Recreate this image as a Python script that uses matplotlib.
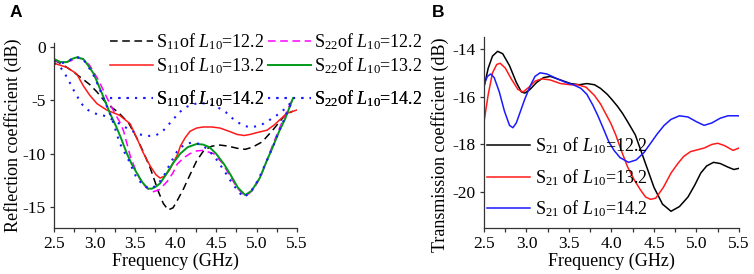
import matplotlib
matplotlib.use("Agg")
import matplotlib.pyplot as plt
from matplotlib.ticker import MultipleLocator

plt.rcParams['font.family'] = ['Liberation Serif', 'DejaVu Serif']
plt.rcParams['mathtext.fontset'] = 'custom'
plt.rcParams['mathtext.rm'] = 'Liberation Serif'
plt.rcParams['mathtext.it'] = 'Liberation Serif:italic'

# ---------------- Panel A data (reflection coefficient, dB) ----------------
f_s11_122 = [2.5, 2.6, 2.7, 2.84, 2.94, 3.03, 3.15, 3.29, 3.42, 3.52, 3.6, 3.69, 3.79, 3.85, 3.91,
             3.97, 4.03, 4.1, 4.16, 4.26, 4.35, 4.45, 4.55, 4.65, 4.76, 4.86, 4.95, 5.07, 5.2, 5.35, 5.45]
s11_122 = [-1.2, -1.6, -2.1, -2.9, -3.5, -4.2, -5.3, -6.1, -7.1, -8.5, -9.8, -11.4, -13.6, -14.7, -15.3,
           -15.1, -14.3, -13.3, -12.3, -10.7, -9.7, -9.3, -9.2, -9.3, -9.5, -9.6, -9.4, -8.9, -7.8, -6.4, -6.0]

f_s22_122 = [2.5, 2.6, 2.7, 2.78, 2.86, 2.94, 3.05, 3.15, 3.25, 3.31, 3.36, 3.44, 3.5, 3.56, 3.64, 3.72,
             3.8, 3.9, 3.97, 4.02, 4.1, 4.18, 4.26, 4.34, 4.47, 4.58, 4.68, 4.76, 4.84, 4.9, 4.96, 5.05,
             5.13, 5.21, 5.29, 5.37, 5.45]
s22_122 = [-1.2, -1.5, -1.3, -1.0, -1.1, -1.7, -3.1, -4.7, -6.2, -7.0, -7.9, -10.2, -11.4, -12.4, -13.2, -13.6,
           -13.4, -12.6, -11.8, -11.0, -10.4, -10.0, -9.75, -9.7, -10.0, -10.9, -12.2, -13.2, -13.9, -13.8, -13.4, -12.2,
           -10.6, -9.0, -7.5, -6.1, -4.8]

f_s11_132 = [2.5, 2.58, 2.66, 2.72, 2.78, 2.86, 2.94, 3.03, 3.15, 3.31, 3.44, 3.52, 3.6, 3.69, 3.76, 3.81,
             3.87, 3.93, 4.03, 4.06, 4.12, 4.18, 4.26, 4.34, 4.45, 4.55, 4.66, 4.76, 4.85, 4.92, 5.02, 5.13,
             5.22, 5.29, 5.38, 5.5]
s11_132 = [-1.5, -1.7, -1.9, -2.2, -2.5, -3.6, -4.5, -5.3, -5.9, -6.4, -7.2, -8.5, -9.9, -11.2, -12.0, -12.3,
           -12.1, -11.5, -10.0, -9.3, -8.5, -7.9, -7.6, -7.5, -7.5, -7.6, -7.9, -8.2, -8.3, -8.2, -8.0, -7.8,
           -7.3, -6.8, -6.2, -5.9]

f_s22_132 = [2.5, 2.58, 2.66, 2.72, 2.78, 2.86, 2.93, 2.99, 3.09, 3.19, 3.27, 3.33, 3.4, 3.46, 3.52, 3.59,
             3.66, 3.71, 3.76, 3.81, 3.88, 3.97, 4.06, 4.15, 4.26, 4.34, 4.42, 4.5, 4.6, 4.68, 4.77, 4.86,
             4.94, 5.04, 5.12, 5.2, 5.28, 5.35, 5.45]
s22_132 = [-1.1, -1.4, -1.4, -1.1, -0.95, -1.1, -1.8, -2.5, -4.3, -6.2, -7.5, -8.6, -10.0, -11.0, -11.8, -12.7,
           -13.3, -13.3, -13.1, -12.8, -12.0, -10.9, -10.0, -9.4, -9.1, -9.15, -9.4, -10.0, -11.0, -12.0, -13.2, -13.9,
           -13.5, -12.3, -10.8, -9.4, -7.9, -6.8, -4.8]

f_s11_142 = [2.5, 2.57, 2.62, 2.68, 2.74, 2.8, 2.85, 2.92, 2.99, 3.15, 3.31, 3.44, 3.56, 3.65, 3.75, 3.83,
             3.9, 3.97, 4.05, 4.14, 4.22, 4.3, 4.4, 4.51, 4.62, 4.72, 4.82, 4.9, 4.96, 5.06, 5.17, 5.25,
             5.35, 5.45]
s11_142 = [-1.5, -1.8, -2.3, -3.1, -4.0, -4.8, -5.4, -5.9, -6.2, -6.5, -7.2, -7.8, -8.2, -8.35, -8.3, -8.0,
           -7.4, -6.8, -6.1, -5.6, -5.35, -5.25, -5.3, -5.6, -6.1, -6.8, -7.3, -7.5, -7.5, -7.3, -6.8, -6.4,
           -5.8, -5.0]

f_s22_142 = [2.5, 2.58, 2.66, 2.72, 2.78, 2.86, 2.93, 3.0, 3.1, 3.22, 3.31, 3.42, 3.52, 3.62, 3.7, 3.78,
             3.85, 3.93, 4.02, 4.1, 4.2, 4.3, 4.4, 4.5, 4.6, 4.7, 4.78, 4.84, 4.92, 5.02, 5.12, 5.2, 5.3, 5.45]
s22_142 = [-1.3, -1.5, -1.4, -1.1, -0.9, -1.1, -1.9, -2.8, -4.6, -6.8, -9.0, -10.6, -12.3, -13.1, -13.3, -12.9,
           -12.2, -11.0, -9.8, -9.2, -8.95, -9.1, -9.6, -10.5, -11.6, -12.8, -13.6, -14.1, -13.7, -12.5, -10.8, -9.4, -7.5, -4.9]

# ---------------- Panel B data (transmission coefficient, dB) ----------------
f_s21_122 = [2.5, 2.55, 2.6, 2.66, 2.72, 2.8, 2.88, 2.94, 2.98, 3.04, 3.12, 3.2, 3.28, 3.4, 3.52, 3.62,
             3.71, 3.8, 3.87, 3.95, 4.0, 4.07, 4.13, 4.19, 4.28, 4.36, 4.43, 4.5, 4.6, 4.7, 4.8, 4.9,
             4.98, 5.05, 5.12, 5.2, 5.28, 5.37, 5.44, 5.5]
s21_122 = [-15.6, -14.8, -14.3, -14.1, -14.2, -14.7, -15.4, -15.8, -15.85, -15.7, -15.4, -15.2, -15.15, -15.3, -15.45, -15.5,
           -15.45, -15.5, -15.65, -15.9, -16.1, -16.4, -16.7, -17.05, -17.6, -18.4, -19.1, -19.8, -20.5, -20.8, -20.6, -20.2,
           -19.7, -19.2, -18.9, -18.75, -18.8, -18.95, -19.05, -19.0]

f_s21_132 = [2.5, 2.55, 2.6, 2.65, 2.69, 2.75, 2.82, 2.9, 2.96, 3.03, 3.1, 3.18, 3.28, 3.4, 3.52, 3.6,
             3.7, 3.8, 3.87, 3.93, 3.99, 4.05, 4.12, 4.19, 4.27, 4.34, 4.4, 4.46, 4.52, 4.61, 4.7, 4.78,
             4.85, 4.93, 5.09, 5.18, 5.25, 5.33, 5.43, 5.5]
s21_132 = [-17.05, -15.9, -15.0, -14.65, -14.6, -14.8, -15.25, -15.7, -15.8, -15.6, -15.35, -15.25, -15.3, -15.45, -15.5, -15.5,
           -15.6, -15.95, -16.3, -16.7, -17.1, -17.6, -18.3, -18.95, -19.5, -19.9, -20.2, -20.3, -20.25, -19.8, -19.2, -18.8,
           -18.5, -18.3, -18.15, -18.0, -17.95, -18.05, -18.25, -18.15]

f_s21_142 = [2.5, 2.54, 2.58, 2.62, 2.68, 2.74, 2.8, 2.84, 2.88, 2.93, 2.98, 3.05, 3.1, 3.16, 3.24, 3.36,
             3.46, 3.55, 3.64, 3.71, 3.78, 3.84, 3.9, 3.97, 4.03, 4.1, 4.2, 4.29, 4.38, 4.46, 4.54, 4.62,
             4.7, 4.8, 4.9, 5.0, 5.09, 5.18, 5.28, 5.37, 5.5]
s21_142 = [-15.5, -15.15, -15.05, -15.2, -15.8, -16.6, -17.2, -17.3, -17.1, -16.6, -16.1, -15.5, -15.15, -15.0, -15.05, -15.25,
           -15.4, -15.5, -15.65, -15.9, -16.35, -16.8, -17.3, -17.9, -18.25, -18.55, -18.75, -18.65, -18.35, -17.95, -17.55, -17.2,
           -16.95, -16.8, -16.85, -17.05, -17.2, -17.1, -16.9, -16.8, -16.8]

xticks = [2.5, 3.0, 3.5, 4.0, 4.5, 5.0, 5.5]
xticklabels = ['2.5', '3.0', '3.5', '4.0', '4.5', '5.0', '5.5']
yticks_a = [0, -5, -10, -15]
yticks_b = [-14, -16, -18, -20]

labels_a = [r'S$_{11}$of $L_{10}$=12.2', r'S$_{22}$of $L_{10}$=12.2',
            r'S$_{11}$of $L_{10}$=13.2', r'S$_{22}$of $L_{10}$=13.2',
            r'S$_{11}$of $L_{10}$=14.2', r'S$_{22}$of $L_{10}$=14.2']
labels_b = [r'S$_{21}$ of $L_{10}$=12.2', r'S$_{21}$ of $L_{10}$=13.2', r'S$_{21}$ of $L_{10}$=14.2']

W, H = 754, 274
fig = plt.figure(figsize=(W / 100, H / 100), dpi=100)

def box(l, r, t, b):
    return [l / W, 1 - b / H, (r - l) / W, (b - t) / H]

axA = fig.add_axes(box(54, 297, 43, 228))
axB = fig.add_axes(box(484, 739, 37, 228))

lw = 1.1
dash = (0, (5, 3))
dot = (0, (1, 3))
blue = '#1a1aff'
hA = []
hA.append(axA.plot(f_s11_122, s11_122, color='black', lw=lw, ls=dash)[0])
hA.append(axA.plot(f_s22_122, s22_122, color='#ff00ff', lw=lw, ls=dash)[0])
hA.append(axA.plot(f_s11_132, s11_132, color='#ff1a1a', lw=lw)[0])
hA.append(axA.plot(f_s22_132, s22_132, color='#009a1a', lw=lw + 0.3)[0])
hA.append(axA.plot(f_s11_142, s11_142, color=blue, lw=1.5, ls=dot)[0])
hA.append(axA.plot(f_s22_142, s22_142, color=blue, lw=1.5, ls=dot)[0])

hB = []
hB.append(axB.plot(f_s21_122, s21_122, color='black', lw=lw)[0])
hB.append(axB.plot(f_s21_132, s21_132, color='#ff1a1a', lw=lw)[0])
hB.append(axB.plot(f_s21_142, s21_142, color=blue, lw=lw)[0])

for ax in (axA, axB):
    ax.set_xlim(2.5, 5.5)
    ax.set_xticks(xticks)
    ax.set_xticklabels(xticklabels)
    ax.xaxis.set_minor_locator(MultipleLocator(0.25))
    ax.spines['top'].set_visible(False)
    ax.spines['right'].set_visible(False)
    for s in ('left', 'bottom'):
        ax.spines[s].set_linewidth(0.9)
        ax.spines[s].set_color('#333333')
    ax.tick_params(which='both', direction='out', length=3, width=0.9, labelsize=12.5, pad=3, color='#333333')
    ax.tick_params(axis='x', which='minor', length=3)
    ax.set_xlabel('Frequency (GHz)', fontsize=13, labelpad=0)

axA.set_ylim(-17, 0.4)
axA.set_yticks(yticks_a)
axA.set_yticklabels([str(v) for v in yticks_a])
axB.set_ylim(-21.5, -13.5)
axB.set_yticks(yticks_b)
axB.set_yticklabels([str(v) for v in yticks_b])

fig.text(13 / W, 1 - 135 / H, 'Reflection coefficient (dB)', rotation=90, ha='center', va='center', fontsize=13)
fig.text(440 / W, 1 - 145 / H, 'Transmission coefficient (dB)', rotation=90, ha='center', va='center', fontsize=13)

fig.text(10 / W, 1 - 17 / H, 'A', fontsize=12.5, fontweight='bold', family='Liberation Sans')
fig.text(432 / W, 1 - 17 / H, 'B', fontsize=12.5, fontweight='bold', family='Liberation Sans')

# Panel A legend: three rows, two columns each
row_y = [42, 66, 99]
for i, yy in enumerate(row_y):
    leg = axA.legend(hA[2 * i:2 * i + 2], labels_a[2 * i:2 * i + 2], ncol=2, frameon=False,
                     fontsize=13, handlelength=2.4, handletextpad=0.15, columnspacing=0.2,
                     borderpad=0, borderaxespad=0, loc='center left',
                     bbox_to_anchor=(110 / W, 1 - yy / H), bbox_transform=fig.transFigure)
    axA.add_artist(leg)

legB = axB.legend(hB, labels_b, frameon=False, fontsize=13, handlelength=2.4, handletextpad=0.25,
                  labelspacing=0.62, borderpad=0, borderaxespad=0, loc='upper left',
                  bbox_to_anchor=(487 / W, 1 - 135 / H), bbox_transform=fig.transFigure)

fig.savefig('out.png', dpi=100)
